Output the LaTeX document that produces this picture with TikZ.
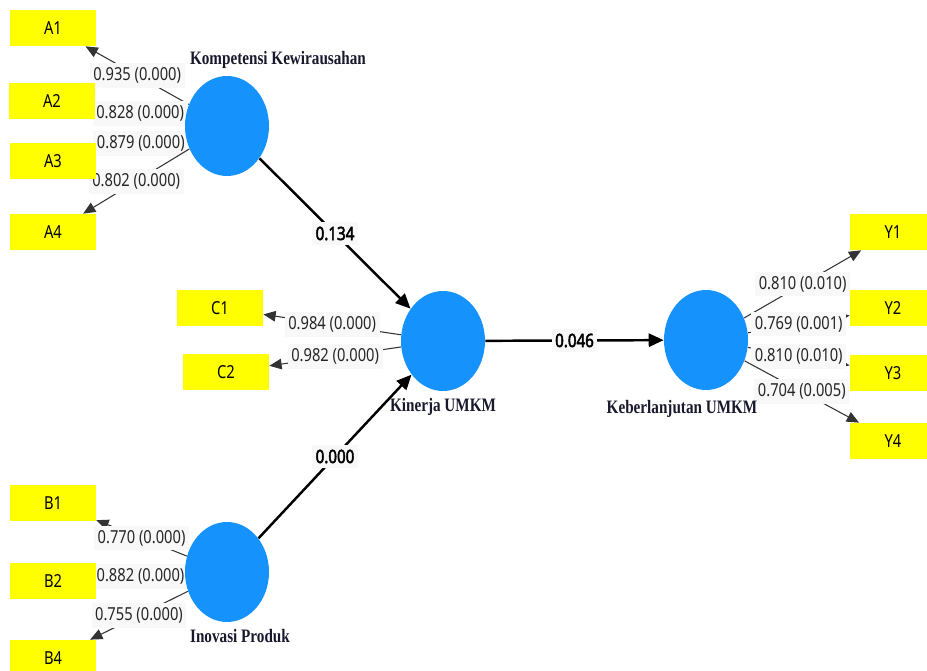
\documentclass[tikz,border=0pt]{standalone}
\usepackage{fontspec}
\usetikzlibrary{arrows.meta,shapes.geometric,backgrounds}
\newfontfamily\valfont[FakeStretch=0.82]{Noto Sans}
\newfontfamily\coeffont[FakeStretch=0.82,FakeBold=2.5]{Noto Sans}
\newfontfamily\lvfont[FakeStretch=0.8]{Liberation Serif}
\definecolor{boxyellow}{RGB}{255,255,0}
\definecolor{lvblue}{RGB}{22,146,252}
\definecolor{lblgray}{RGB}{248,248,248}
\definecolor{lvtext}{RGB}{25,25,45}
\begin{document}
\begin{tikzpicture}[x=0.02cm,y=-0.02cm,
  ind/.style={rectangle,fill=boxyellow,minimum width=1.72cm,minimum height=0.72cm,inner sep=0pt,font=\valfont\fontsize{10.2}{12}\selectfont},
  lv/.style={ellipse,fill=lvblue,minimum width=1.68cm,minimum height=2cm,inner sep=0pt},
  lvname/.style={font=\lvfont\bfseries\fontsize{10.8}{12}\selectfont,text=lvtext},
  loadarr/.style={draw=black!80,line width=0.6pt,-{Triangle[length=7pt,width=6pt]}},
  structarr/.style={draw=black,line width=1.4pt,-{Triangle[length=8.5pt,width=7.5pt]}},
  loadval/.style={fill=lblgray,inner xsep=2pt,inner ysep=2.5pt,font=\valfont\fontsize{10.2}{12}\selectfont,text=black!85},
  coefval/.style={loadval,font=\coeffont\fontsize{10.5}{12}\selectfont,text=black}]
  \useasboundingbox (0,0) rectangle (927,671);

  \node[lv] (komp) at (227,126) {};
  \node[lv] (kin) at (443,341) {};
  \node[lv] (keb) at (706,340) {};
  \node[lv] (ino) at (227,572) {}; %潜在変数
  \node[lvname] at (278,60) {Kompetensi Kewirausahan};
  \node[lvname] at (443,407) {Kinerja UMKM};
  \node[lvname] at (682,409) {Keberlanjutan UMKM};
  \node[lvname] at (240,636) {Inovasi Produk}; %変数名

  \node[ind] (a1) at (53,28) {A1};
  \node[ind] (a2) at (52,101) {A2};
  \node[ind] (a3) at (53,161) {A3};
  \node[ind] (a4) at (53,232) {A4}; %左上の指標
  \node[ind] (c1) at (220,308) {C1};
  \node[ind] (c2) at (226,372) {C2}; %中央の指標
  \node[ind] (b1) at (53,503) {B1};
  \node[ind] (b2) at (53,581) {B2};
  \node[ind] (b4) at (53,658) {B4}; %左下の指標
  \node[ind] (y1) at (893,232) {Y1};
  \node[ind] (y2) at (893,308) {Y2};
  \node[ind] (y3) at (893,373) {Y3};
  \node[ind] (y4) at (893,441) {Y4}; %右側の指標

  \begin{scope}[on background layer]
  \draw[loadarr] (komp) -- node[loadval] {0.935 (0.000)} (a1);
  \draw[loadarr] (komp) -- node[loadval] {0.828 (0.000)} (a2);
  \draw[loadarr] (komp) -- node[loadval] {0.879 (0.000)} (a3);
  \draw[loadarr] (komp) -- node[loadval] {0.802 (0.000)} (a4); %左上の矢印
  \draw[loadarr] (kin) -- node[loadval] {0.984 (0.000)} (c1);
  \draw[loadarr] (kin) -- node[loadval] {0.982 (0.000)} (c2); %中央の矢印
  \draw[loadarr] (ino) -- node[loadval] {0.770 (0.000)} (b1);
  \draw[loadarr] (ino) -- node[loadval] {0.882 (0.000)} (b2);
  \draw[loadarr] (ino) -- node[loadval] {0.755 (0.000)} (b4); %左下の矢印
  \draw[loadarr] (keb) -- node[loadval] {0.810 (0.010)} (y1);
  \draw[loadarr] (keb) -- node[loadval] {0.769 (0.001)} (y2);
  \draw[loadarr] (keb) -- node[loadval] {0.810 (0.010)} (y3);
  \draw[loadarr] (keb) -- node[loadval] {0.704 (0.005)} (y4); %右側の矢印

  \draw[structarr] (komp) -- node[coefval] {0.134} (kin);
  \draw[structarr] (ino) -- node[coefval] {0.000} (kin);
  \draw[structarr] (kin) -- node[coefval] {0.046} (keb); %パス係数
  \end{scope}
\end{tikzpicture}
\end{document}
